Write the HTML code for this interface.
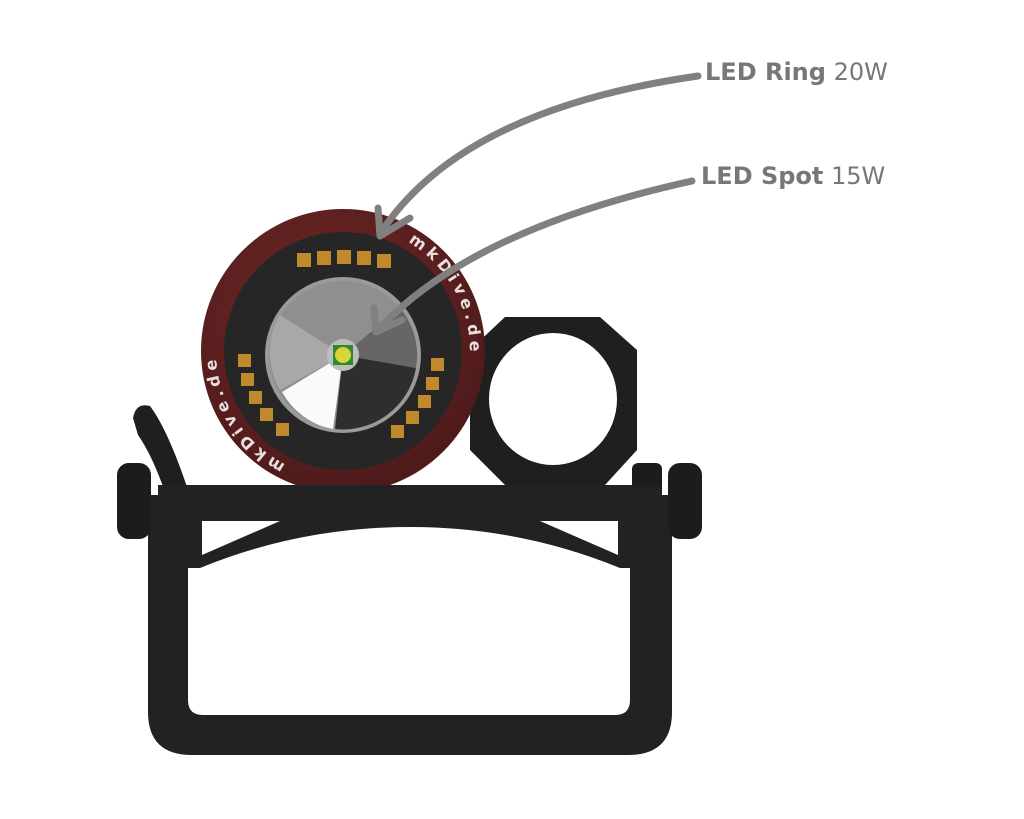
<!DOCTYPE html>
<html><head><meta charset="utf-8"><style>html,body{margin:0;padding:0;background:#fff}svg{display:block}</style></head>
<body>
<svg width="1024" height="819" viewBox="0 0 1024 819" xmlns="http://www.w3.org/2000/svg">
<defs>
<radialGradient id="red" cx="0.45" cy="0.4" r="0.6"><stop offset="0" stop-color="#7a2a2a"/><stop offset="1" stop-color="#4e1a1a"/></radialGradient>
<path id="circ" d="M343,224 A127,127 0 1,1 342.9,224"/>
</defs>
<path d="M148,495 L148,712 Q148,755 192,755 L628,755 Q672,755 672,712 L672,495 L630,495 L630,700 Q630,715 615,715 L203,715 Q188,715 188,700 L188,495 Z" fill="#222"/>
<path d="M133,418 Q136,402 150,406 Q168,430 188,490 L165,492 Q152,455 138,435 Z" fill="#1f1f1f"/>
<rect x="117" y="463" width="34" height="76" rx="12" fill="#1c1c1c"/>
<rect x="632" y="463" width="30" height="30" rx="6" fill="#1c1c1c"/>
<rect x="668" y="463" width="34" height="76" rx="12" fill="#1c1c1c"/>
<path d="M505,317 L600,317 L637,350 L637,450 L605,485 L505,485 L470,450 L470,350 Z" fill="#1f1f1f"/>
<ellipse cx="553" cy="399" rx="64" ry="66" fill="#fff"/>
<circle cx="343" cy="351" r="142" fill="url(#red)"/>
<circle cx="343" cy="351" r="119" fill="#262626"/>
<path d="M158,485 L662,485 L662,568 L620,568 Q520,527 410,527 Q300,527 200,568 L158,568 Z" fill="#222"/>
<path d="M202,521 L280,521 L202,555 Z" fill="#fff"/>
<path d="M540,521 L618,521 L618,555 Z" fill="#fff"/>
<circle cx="343" cy="355" r="78" fill="#9a9a9a"/>
<circle cx="343" cy="355" r="74" fill="#8f8f8f"/>
<path d="M343,355 L280,390 A74,74 0 0,1 280,315 Z" fill="#a8a8a8"/>
<path d="M343,355 L282,392 A74,74 0 0,0 333,429 Z" fill="#fafafa"/>
<path d="M343,355 L335,429 A74,74 0 0,0 416,368 Z" fill="#2e2e2e"/>
<path d="M343,355 L416,368 A74,74 0 0,0 400,308 Z" fill="#666"/>
<circle cx="343" cy="355" r="16" fill="#bdbdbd"/>
<rect x="333" y="345" width="20" height="20" fill="#2d8a2d"/>
<circle cx="343" cy="355" r="8" fill="#d8d43a"/>
<g fill="#c08a2c">
<rect x="297" y="253" width="14" height="14"/><rect x="317" y="251" width="14" height="14"/><rect x="337" y="250" width="14" height="14"/><rect x="357" y="251" width="14" height="14"/><rect x="377" y="254" width="14" height="14"/>
<rect x="238" y="354" width="13" height="13"/><rect x="241" y="373" width="13" height="13"/><rect x="249" y="391" width="13" height="13"/><rect x="260" y="408" width="13" height="13"/><rect x="276" y="423" width="13" height="13"/>
<rect x="431" y="358" width="13" height="13"/><rect x="426" y="377" width="13" height="13"/><rect x="418" y="395" width="13" height="13"/><rect x="406" y="411" width="13" height="13"/><rect x="391" y="425" width="13" height="13"/>
</g>
<g font-family="DejaVu Sans, sans-serif" font-weight="bold" font-size="16" fill="#e8e0e0" letter-spacing="4.5">
<text><textPath href="#circ" startOffset="68">mkDive.de</textPath></text>
<text><textPath href="#circ" startOffset="458">mkDive.de</textPath></text>
</g>
<g stroke="#808080" stroke-width="7" fill="none" stroke-linecap="round" stroke-linejoin="round">
<path d="M698,76 Q460,110 380,234"/>
<path d="M378,208 L380,236 L410,218"/>
<path d="M692,181 Q470,230 378,330"/>
<path d="M374,308 L376,332 L402,320"/>
</g>
<g font-family="DejaVu Sans, Verdana, sans-serif" font-size="24" fill="#777">
<text x="705" y="80"><tspan font-weight="bold">LED Ring</tspan> 20W</text>
<text x="701" y="184"><tspan font-weight="bold">LED Spot</tspan> 15W</text>
</g>
</svg>
</body></html>
